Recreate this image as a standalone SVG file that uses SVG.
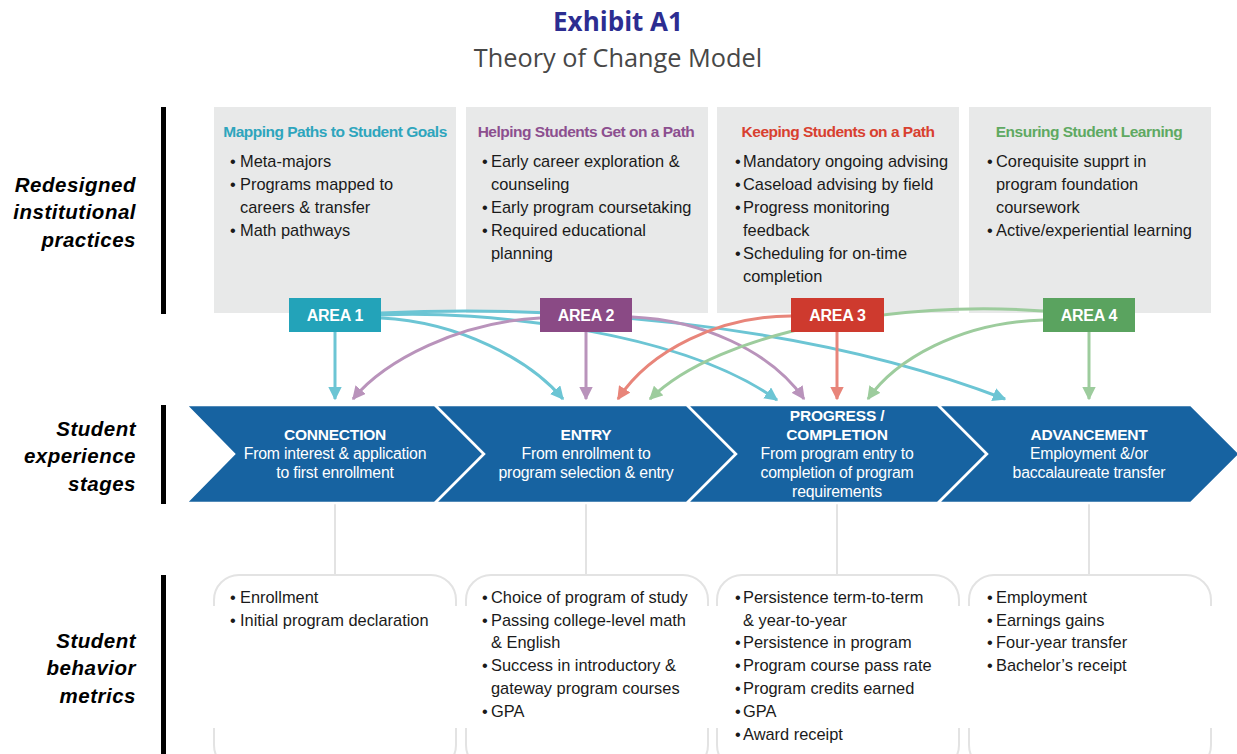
<svg xmlns="http://www.w3.org/2000/svg" width="1237" height="754" viewBox="0 0 1237 754">
<style>
.t1{font-family:"Open Sans","Liberation Sans",sans-serif;font-weight:700;font-size:26px;fill:#2c2d91;text-anchor:middle}
.t2{font-family:"Open Sans","Liberation Sans",sans-serif;font-size:25.3px;fill:#474747;text-anchor:middle}
.side{font-family:"Liberation Sans",Arial,sans-serif;font-weight:700;font-style:italic;font-size:20.5px;fill:#000;text-anchor:end;letter-spacing:0.5px}
.bar{fill:#000}
.gbox{fill:#e8e9e9}
.hd{font-family:"Liberation Sans",Arial,sans-serif;font-weight:700;font-size:15.5px;letter-spacing:-0.5px;text-anchor:middle}
.tx{font-family:"Liberation Sans",Arial,sans-serif;font-size:16.4px;fill:#1a1a1a}
.area{font-family:"Liberation Sans",Arial,sans-serif;font-weight:700;font-size:16px;fill:#fff;text-anchor:middle;letter-spacing:-0.3px}
.chev{fill:#1763a1;stroke:#fff;stroke-width:2.5}
.ch{font-family:"Liberation Sans",Arial,sans-serif;font-weight:700;font-size:15.5px;fill:#fff;text-anchor:middle;letter-spacing:-0.2px}
.cs{font-family:"Liberation Sans",Arial,sans-serif;font-size:15.8px;fill:#fff;text-anchor:middle;letter-spacing:-0.2px}
.ol{fill:none;stroke:#e3e3e3;stroke-width:2}
.c1{stroke:#6cc5d4}.c2{stroke:#b993bb}.c3{stroke:#e8857a}.c4{stroke:#9dcc9d}
.ar{fill:none;stroke-width:3}
</style>
<defs>
<marker id="m1" viewBox="0 0 10 10" refX="9" refY="5" markerWidth="4.5" markerHeight="4.5" orient="auto" markerUnits="strokeWidth"><path d="M0,0 L10,5 L0,10 Z" fill="#6cc5d4"/></marker>
<marker id="m2" viewBox="0 0 10 10" refX="9" refY="5" markerWidth="4.5" markerHeight="4.5" orient="auto" markerUnits="strokeWidth"><path d="M0,0 L10,5 L0,10 Z" fill="#b993bb"/></marker>
<marker id="m3" viewBox="0 0 10 10" refX="9" refY="5" markerWidth="4.5" markerHeight="4.5" orient="auto" markerUnits="strokeWidth"><path d="M0,0 L10,5 L0,10 Z" fill="#e8857a"/></marker>
<marker id="m4" viewBox="0 0 10 10" refX="9" refY="5" markerWidth="4.5" markerHeight="4.5" orient="auto" markerUnits="strokeWidth"><path d="M0,0 L10,5 L0,10 Z" fill="#9dcc9d"/></marker>
</defs>
<rect width="1237" height="754" fill="#fff"/>

<g id="title">
<text class="t1" x="618" y="31">Exhibit A1</text>
<text class="t2" x="618" y="67">Theory of Change Model</text>
</g>

<g id="row-labels">
<rect class="bar" x="161" y="107" width="5" height="207"/>
<text class="side" x="136" y="192">Redesigned</text>
<text class="side" x="136" y="219">institutional</text>
<text class="side" x="136" y="247">practices</text>
<rect class="bar" x="161" y="405" width="5" height="99"/>
<text class="side" x="136" y="436">Student</text>
<text class="side" x="136" y="463">experience</text>
<text class="side" x="136" y="491">stages</text>
<rect class="bar" x="161" y="575" width="5" height="179"/>
<text class="side" x="136" y="648">Student</text>
<text class="side" x="136" y="675">behavior</text>
<text class="side" x="136" y="703">metrics</text>
</g>

<g id="practice1">
<rect class="gbox" x="214" y="107" width="242" height="206"/>
<text class="hd" x="335" y="137" fill="#2ea5bd">Mapping Paths to Student Goals</text>
<text class="tx" x="230" y="167">•</text><text class="tx" x="240" y="167">Meta-majors</text>
<text class="tx" x="230" y="190">•</text><text class="tx" x="240" y="190">Programs mapped to</text>
<text class="tx" x="240" y="213">careers &amp; transfer</text>
<text class="tx" x="230" y="236">•</text><text class="tx" x="240" y="236">Math pathways</text>
</g>
<g id="practice2">
<rect class="gbox" x="466" y="107" width="242" height="206"/>
<text class="hd" x="586" y="137" fill="#8c4f8f">Helping Students Get on a Path</text>
<text class="tx" x="482" y="167">•</text><text class="tx" x="491" y="167">Early career exploration &amp;</text>
<text class="tx" x="491" y="190">counseling</text>
<text class="tx" x="482" y="213">•</text><text class="tx" x="491" y="213">Early program coursetaking</text>
<text class="tx" x="482" y="236">•</text><text class="tx" x="491" y="236">Required educational</text>
<text class="tx" x="491" y="259">planning</text>
</g>
<g id="practice3">
<rect class="gbox" x="717" y="107" width="242" height="206"/>
<text class="hd" x="838" y="137" fill="#d8402f">Keeping Students on a Path</text>
<text class="tx" x="735" y="167">•</text><text class="tx" x="743" y="167">Mandatory ongoing advising</text>
<text class="tx" x="735" y="190">•</text><text class="tx" x="743" y="190">Caseload advising by field</text>
<text class="tx" x="735" y="213">•</text><text class="tx" x="743" y="213">Progress monitoring</text>
<text class="tx" x="743" y="236">feedback</text>
<text class="tx" x="735" y="259">•</text><text class="tx" x="743" y="259">Scheduling for on-time</text>
<text class="tx" x="743" y="282">completion</text>
</g>
<g id="practice4">
<rect class="gbox" x="969" y="107" width="242" height="206"/>
<text class="hd" x="1089" y="137" fill="#5fa962">Ensuring Student Learning</text>
<text class="tx" x="987" y="167">•</text><text class="tx" x="996" y="167">Corequisite supprt in</text>
<text class="tx" x="996" y="190">program foundation</text>
<text class="tx" x="996" y="213">coursework</text>
<text class="tx" x="987" y="236">•</text><text class="tx" x="996" y="236">Active/experiential learning</text>
</g>

<g id="connectors">
<path class="ar c1" d="M335,332 L335,399" marker-end="url(#m1)"/>
<path class="ar c1" d="M381,318 C460,322 530,360 563,399" marker-end="url(#m1)"/>
<path class="ar c1" d="M381,315 C480,310 680,330 777,400" marker-end="url(#m1)"/>
<path class="ar c1" d="M381,313 C550,305 800,320 1005,399" marker-end="url(#m1)"/>
<path class="ar c2" d="M586,332 L586,399" marker-end="url(#m2)"/>
<path class="ar c2" d="M540,318 C460,322 385,360 353,399" marker-end="url(#m2)"/>
<path class="ar c2" d="M632,317 C700,320 770,350 804,399" marker-end="url(#m2)"/>
<path class="ar c3" d="M837,332 L837,399" marker-end="url(#m3)"/>
<path class="ar c3" d="M791,316 C720,316 650,350 618,399" marker-end="url(#m3)"/>
<path class="ar c4" d="M1089,332 L1089,399" marker-end="url(#m4)"/>
<path class="ar c4" d="M1043,320 C960,322 895,360 868,399" marker-end="url(#m4)"/>
<path class="ar c4" d="M1043,311 C900,300 720,330 650,399" marker-end="url(#m4)"/>
<path class="ol" d="M335,503 L335,575 M586,503 L586,575 M837,503 L837,575 M1089,503 L1089,575"/>
</g>

<g id="area1"><rect x="289" y="298" width="92" height="34" fill="#23a3b9"/><text class="area" x="335" y="321">AREA 1</text></g>
<g id="area2"><rect x="540" y="298" width="92" height="34" fill="#8a4a85"/><text class="area" x="586" y="321">AREA 2</text></g>
<g id="area3"><rect x="791" y="298" width="93" height="34" fill="#ce3a2e"/><text class="area" x="837.5" y="321">AREA 3</text></g>
<g id="area4"><rect x="1043" y="298" width="92" height="34" fill="#5aa35f"/><text class="area" x="1089" y="321">AREA 4</text></g>

<g id="stage1">
<polygon class="chev" points="186,405 435,405 484,454 435,503 186,503 234,454"/>
<text class="ch" x="335" y="440">CONNECTION</text>
<text class="cs" x="335" y="459">From interest &amp; application</text>
<text class="cs" x="335" y="478">to first enrollment</text>
</g>
<g id="stage2">
<polygon class="chev" points="435,405 687,405 736,454 687,503 435,503 484,454"/>
<text class="ch" x="586" y="440">ENTRY</text>
<text class="cs" x="586" y="459">From enrollment to</text>
<text class="cs" x="586" y="478">program selection &amp; entry</text>
</g>
<g id="stage3">
<polygon class="chev" points="687,405 938,405 987,454 938,503 687,503 736,454"/>
<text class="ch" x="837" y="421">PROGRESS /</text>
<text class="ch" x="837" y="440">COMPLETION</text>
<text class="cs" x="837" y="459">From program entry to</text>
<text class="cs" x="837" y="478">completion of program</text>
<text class="cs" x="837" y="497">requirements</text>
</g>
<g id="stage4">
<polygon class="chev" points="938,405 1191,405 1240,454 1191,503 938,503 987,454"/>
<text class="ch" x="1089" y="440">ADVANCEMENT</text>
<text class="cs" x="1089" y="459">Employment &amp;/or</text>
<text class="cs" x="1089" y="478">baccalaureate transfer</text>
</g>

<g id="metrics1">
<path class="ol" d="M214,606 L214,600 A25,25 0 0 1 239,575 L431,575 A25,25 0 0 1 456,600 L456,606 M214,728 L214,745 A25,25 0 0 0 239,770 M456,728 L456,745 A25,25 0 0 1 431,770"/>
<text class="tx" x="230" y="603">•</text><text class="tx" x="240" y="603">Enrollment</text>
<text class="tx" x="230" y="626">•</text><text class="tx" x="240" y="626">Initial program declaration</text>
</g>
<g id="metrics2">
<path class="ol" d="M466,606 L466,600 A25,25 0 0 1 491,575 L683,575 A25,25 0 0 1 708,600 L708,606 M466,728 L466,745 A25,25 0 0 0 491,770 M708,728 L708,745 A25,25 0 0 1 683,770"/>
<text class="tx" x="482" y="603">•</text><text class="tx" x="491" y="603">Choice of program of study</text>
<text class="tx" x="482" y="626">•</text><text class="tx" x="491" y="626">Passing college-level math</text>
<text class="tx" x="491" y="648">&amp; English</text>
<text class="tx" x="482" y="671">•</text><text class="tx" x="491" y="671">Success in introductory &amp;</text>
<text class="tx" x="491" y="694">gateway program courses</text>
<text class="tx" x="482" y="717">•</text><text class="tx" x="491" y="717">GPA</text>
</g>
<g id="metrics3">
<path class="ol" d="M717,606 L717,600 A25,25 0 0 1 742,575 L934,575 A25,25 0 0 1 959,600 L959,606 M717,728 L717,745 A25,25 0 0 0 742,770 M959,728 L959,745 A25,25 0 0 1 934,770"/>
<text class="tx" x="735" y="603">•</text><text class="tx" x="743" y="603">Persistence term-to-term</text>
<text class="tx" x="743" y="626">&amp; year-to-year</text>
<text class="tx" x="735" y="648">•</text><text class="tx" x="743" y="648">Persistence in program</text>
<text class="tx" x="735" y="671">•</text><text class="tx" x="743" y="671">Program course pass rate</text>
<text class="tx" x="735" y="694">•</text><text class="tx" x="743" y="694">Program credits earned</text>
<text class="tx" x="735" y="717">•</text><text class="tx" x="743" y="717">GPA</text>
<text class="tx" x="735" y="740">•</text><text class="tx" x="743" y="740">Award receipt</text>
</g>
<g id="metrics4">
<path class="ol" d="M969,606 L969,600 A25,25 0 0 1 994,575 L1186,575 A25,25 0 0 1 1211,600 L1211,606 M969,728 L969,745 A25,25 0 0 0 994,770 M1211,728 L1211,745 A25,25 0 0 1 1186,770"/>
<text class="tx" x="987" y="603">•</text><text class="tx" x="996" y="603">Employment</text>
<text class="tx" x="987" y="626">•</text><text class="tx" x="996" y="626">Earnings gains</text>
<text class="tx" x="987" y="648">•</text><text class="tx" x="996" y="648">Four-year transfer</text>
<text class="tx" x="987" y="671">•</text><text class="tx" x="996" y="671">Bachelor’s receipt</text>
</g>
</svg>
